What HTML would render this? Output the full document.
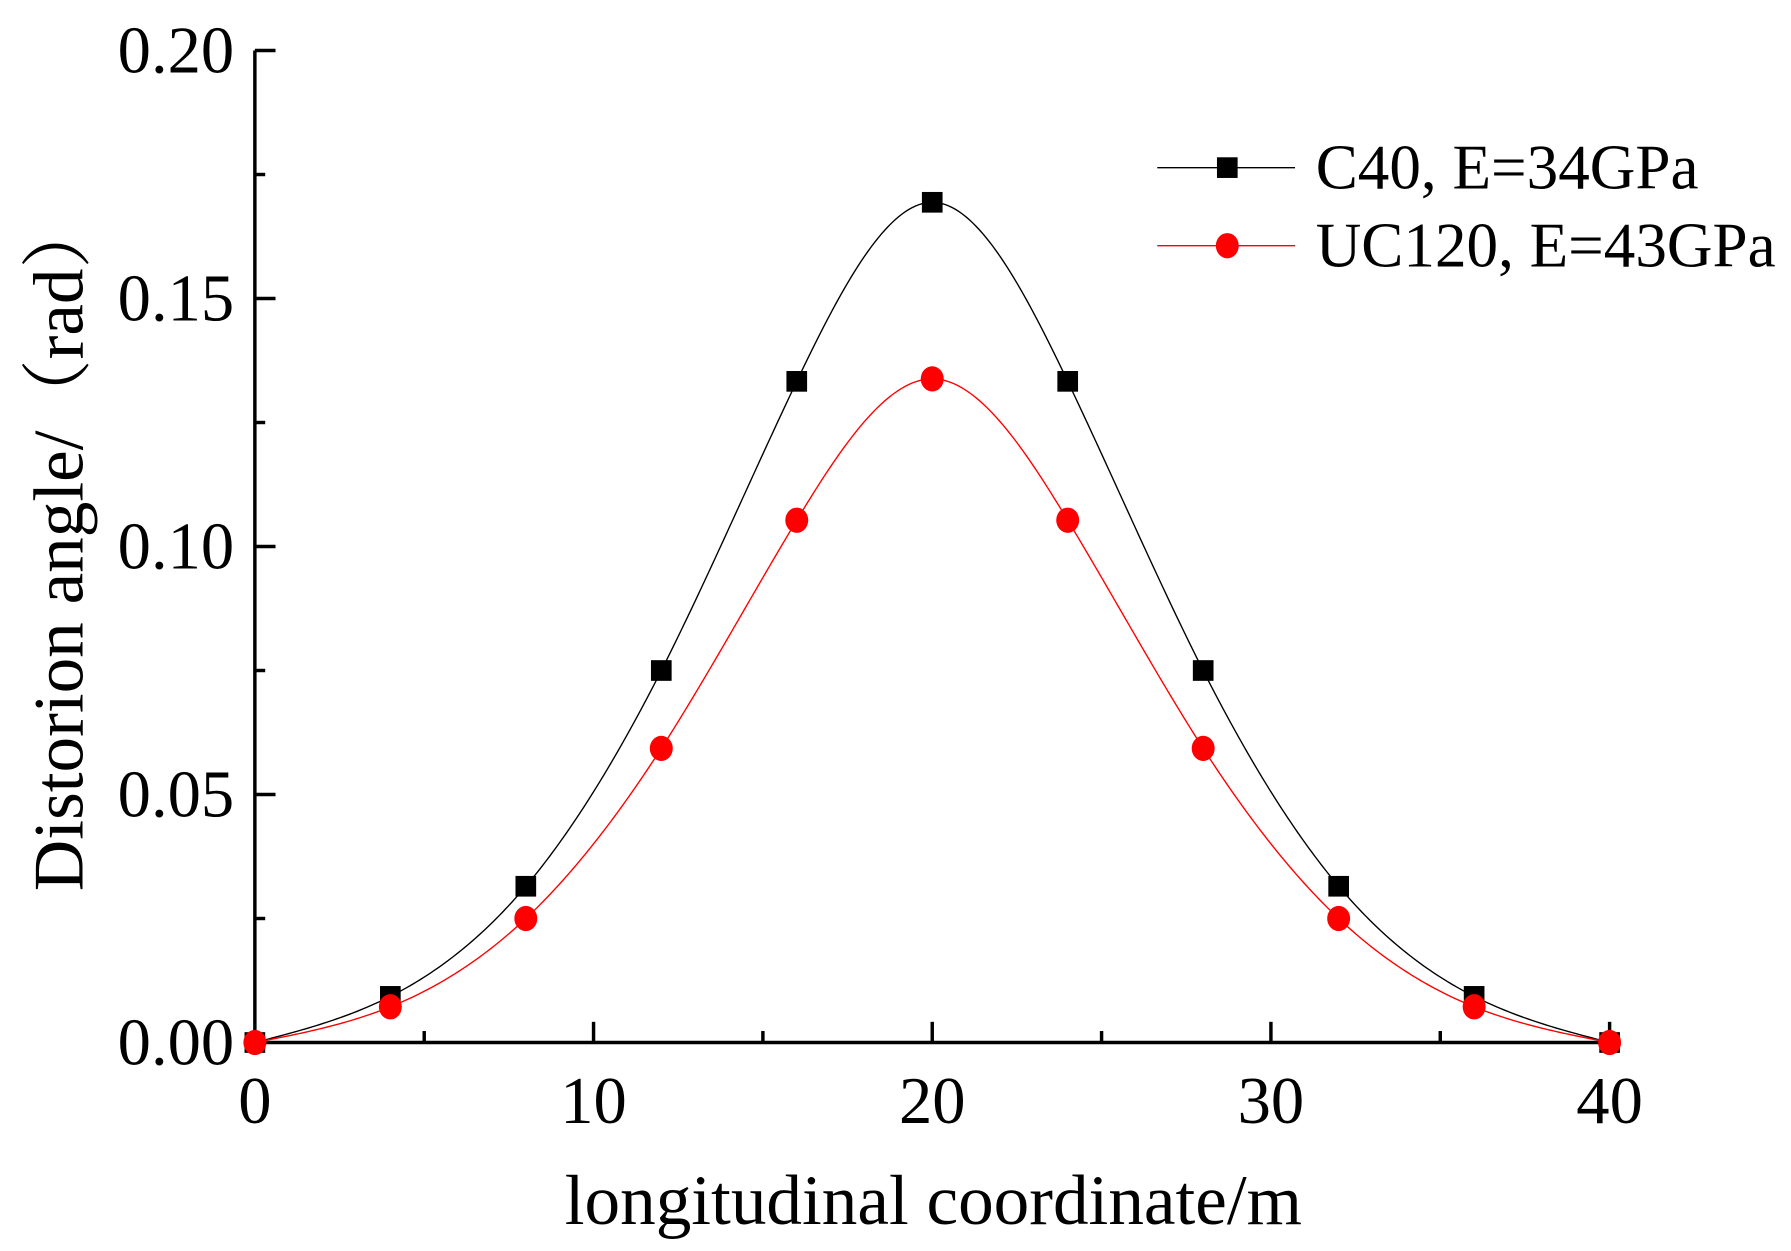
<!DOCTYPE html>
<html><head><meta charset="utf-8"><style>
html,body{margin:0;padding:0;background:#fff;}
svg{display:block;}
text{font-family:"Liberation Serif","Noto Serif CJK SC",serif;fill:#000;}
</style></head><body>
<svg id="s" width="1791" height="1251" viewBox="0 0 1560 1089.6" preserveAspectRatio="none" xmlns="http://www.w3.org/2000/svg">
<g id="axes" stroke="#000" stroke-width="3" fill="none">
<line x1="222" y1="44" x2="222" y2="909.5"/>
<line x1="220.5" y1="908" x2="1404" y2="908"/>
</g>
<g font-size="58" text-anchor="end">
<text x="204" y="927">0.00</text>
<text x="204" y="711">0.05</text>
<text x="204" y="495">0.10</text>
<text x="204" y="279">0.15</text>
<text x="204" y="63">0.20</text>
</g>
<g font-size="58" text-anchor="middle">
<text x="222" y="978">0</text>
<text x="517" y="978">10</text>
<text x="812" y="978">20</text>
<text x="1107" y="978">30</text>
<text x="1402" y="978">40</text>
</g>
<text x="813" y="1066" font-size="62" text-anchor="middle">longitudinal coordinate/m</text>
<text transform="translate(72,474) rotate(-90)" font-size="62" text-anchor="middle">Distorion angle/（rad）</text>
<g font-size="55">
<text x="1146" y="164">C40, E=34GPa</text>
<text x="1146" y="232">UC120, E=43GPa</text>
</g>
<line x1="1008" y1="146" x2="1128" y2="146" stroke="#000" stroke-width="1.2"/>
<rect x="1060" y="137" width="18" height="18" fill="#000"/>
<line x1="1008" y1="214" x2="1128" y2="214" stroke="#f00" stroke-width="1.2"/>
<ellipse cx="1069" cy="214" rx="10" ry="11" fill="#f00"/>
<g id="plot"></g>
</svg>
<script>
var ns="http://www.w3.org/2000/svg",s=document.getElementById('axes'),p=document.getElementById('plot');
function ln(g,x1,y1,x2,y2){var l=document.createElementNS(ns,'line');l.setAttribute('x1',x1);l.setAttribute('y1',y1);l.setAttribute('x2',x2);l.setAttribute('y2',y2);g.appendChild(l);}
for(var i=1;i<=8;i++){var x=222+i*147.5;ln(s,x,908,x,i%2==0?890:898);}
for(var j=1;j<=8;j++){var y=908-j*108;ln(s,222,y,j%2==0?240:231,y);}
function X(v){return 222+v*29.5;}function Y(v){return 908-v*4320;}
var xs=[0,4,8,12,16,20,24,28,32,36,40];
var a=[0,0.0093,0.0315,0.075,0.1333,0.1694,0.1333,0.075,0.0315,0.0093,0];
var b=[0,0.0072,0.025,0.0593,0.1053,0.1338,0.1053,0.0593,0.025,0.0072,0];
function spline(ys){var n=ys.length,h=4,c=new Array(n).fill(0);
var al=[],l=[1],mu=[0],z=[0];for(var i=1;i<n-1;i++)al[i]=3/h*(ys[i+1]-ys[i])-3/h*(ys[i]-ys[i-1]);
for(i=1;i<n-1;i++){l[i]=4*h-h*mu[i-1];mu[i]=h/l[i];z[i]=(al[i]-h*z[i-1])/l[i];}
c[n-1]=0;var bb=[],dd=[];for(i=n-2;i>=0;i--){c[i]=z[i]-mu[i]*c[i+1];bb[i]=(ys[i+1]-ys[i])/h-h*(c[i+1]+2*c[i])/3;dd[i]=(c[i+1]-c[i])/(3*h);}
var pts=[];for(i=0;i<n-1;i++)for(var k=0;k<40;k++){var t=k/40*h;pts.push([xs[i]+t,ys[i]+bb[i]*t+c[i]*t*t+dd[i]*t*t*t]);}
pts.push([40,ys[n-1]]);return pts.map(function(q,i){return(i?'L':'M')+X(q[0]).toFixed(2)+' '+Y(q[1]).toFixed(2);}).join('');}
function path(d,col){var e=document.createElementNS(ns,'path');e.setAttribute('d',d);e.setAttribute('fill','none');e.setAttribute('stroke',col);e.setAttribute('stroke-width','1.2');p.appendChild(e);}
path(spline(a),'#000');path(spline(b),'#f00');
xs.forEach(function(x,i){var r=document.createElementNS(ns,'rect');r.setAttribute('x',X(x)-9);r.setAttribute('y',Y(a[i])-9);r.setAttribute('width',18);r.setAttribute('height',18);r.setAttribute('fill','#000');p.appendChild(r);});
xs.forEach(function(x,i){var c=document.createElementNS(ns,'ellipse');c.setAttribute('cx',X(x));c.setAttribute('cy',Y(b[i]));c.setAttribute('rx',10);c.setAttribute('ry',11);c.setAttribute('fill','#f00');p.appendChild(c);});
</script>
</body></html>
